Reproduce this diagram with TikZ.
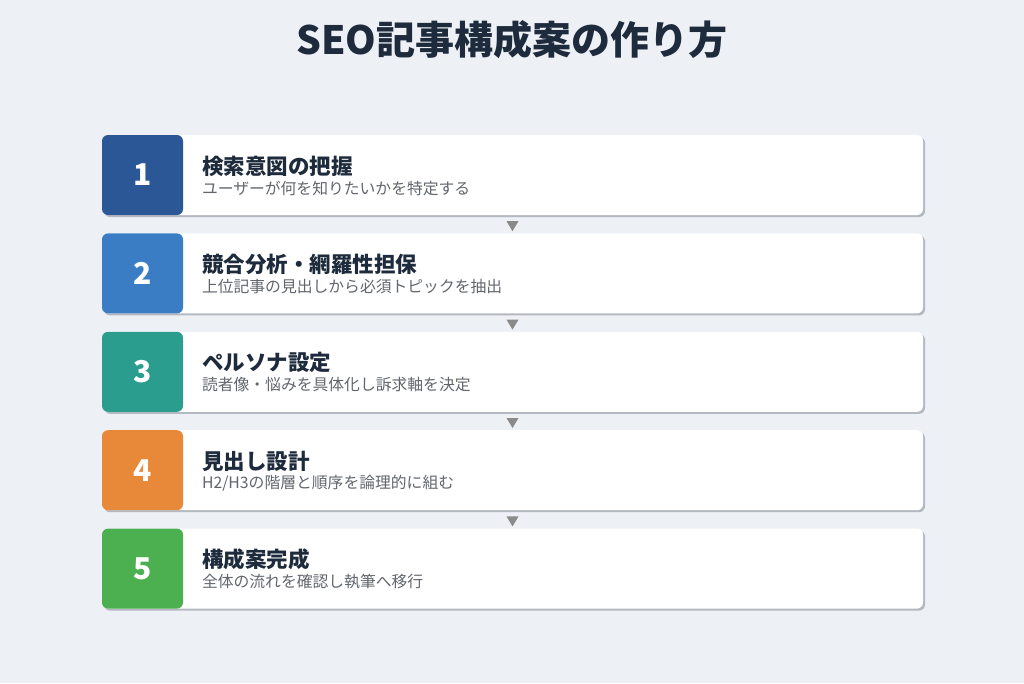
\documentclass[tikz,border=0pt]{standalone}
\usepackage{fontspec}
\setmainfont{Noto Sans CJK JP}
\usetikzlibrary{positioning,shadows}

\definecolor{bg}{HTML}{EDF0F5}
\definecolor{titleblue}{HTML}{1E2B3C}
\definecolor{subgrey}{HTML}{62666C}
\definecolor{shadowgrey}{HTML}{B4B8C0}
\definecolor{arrowgrey}{HTML}{8A8A8A}
\definecolor{stepa}{HTML}{2B5797}
\definecolor{stepb}{HTML}{3A7DC4}
\definecolor{stepc}{HTML}{2A9D8F}
\definecolor{stepd}{HTML}{E8893A}
\definecolor{stepe}{HTML}{4CAF50}

\begin{document}
\begin{tikzpicture}[x=1pt, y=-1pt,
    card/.style={fill=white, rounded corners=6pt, minimum width=821pt, minimum height=80pt, inner sep=0pt,
        drop shadow={shadow xshift=2pt, shadow yshift=-2pt, fill=shadowgrey, opacity=1},
        path picture={\fill[#1] (path picture bounding box.north west) rectangle ([xshift=81pt]path picture bounding box.south west);}},
    num/.style={text=white, font=\bfseries\fontsize{30}{32}\selectfont},
    head/.style={anchor=west, inner sep=0pt, text=titleblue, font=\bfseries\fontsize{21.5}{25}\selectfont},
    sub/.style={anchor=west, inner sep=0pt, text=subgrey, font=\fontsize{15.8}{19}\selectfont}]
    \path[use as bounding box, fill=bg] (0,0) rectangle (1024,683);
    \node [text=titleblue, font=\bfseries\fontsize{39}{42}\selectfont] (title) at (512,40) {SEO記事構成案の作り方};

    \node [card=stepa] (b1) at (512.5,175) {};
    \node [card=stepb, below=18pt of b1] (b2) {};
    \node [card=stepc, below=18pt of b2] (b3) {};
    \node [card=stepd, below=18pt of b3] (b4) {};
    \node [card=stepe, below=18pt of b4] (b5) {};

    \node [num] (n1) at ([xshift=40.5pt]b1.west) {1};
    \node [head] (h1) at ([xshift=100pt, yshift=9pt]b1.west) {検索意図の把握};
    \node [sub] (s1) at ([xshift=100pt, yshift=-13pt]b1.west) {ユーザーが何を知りたいかを特定する};

    \node [num] (n2) at ([xshift=40.5pt]b2.west) {2};
    \node [head] (h2) at ([xshift=100pt, yshift=9pt]b2.west) {競合分析・網羅性担保};
    \node [sub] (s2) at ([xshift=100pt, yshift=-13pt]b2.west) {上位記事の見出しから必須トピックを抽出};

    \node [num] (n3) at ([xshift=40.5pt]b3.west) {3};
    \node [head] (h3) at ([xshift=100pt, yshift=9pt]b3.west) {ペルソナ設定};
    \node [sub] (s3) at ([xshift=100pt, yshift=-13pt]b3.west) {読者像・悩みを具体化し訴求軸を決定};

    \node [num] (n4) at ([xshift=40.5pt]b4.west) {4};
    \node [head] (h4) at ([xshift=100pt, yshift=9pt]b4.west) {見出し設計};
    \node [sub] (s4) at ([xshift=100pt, yshift=-13pt]b4.west) {H2/H3の階層と順序を論理的に組む};

    \node [num] (n5) at ([xshift=40.5pt]b5.west) {5};
    \node [head] (h5) at ([xshift=100pt, yshift=9pt]b5.west) {構成案完成};
    \node [sub] (s5) at ([xshift=100pt, yshift=-13pt]b5.west) {全体の流れを確認し執筆へ移行};

    \path (b1.south) -- (b2.north) coordinate[midway] (a1);
    \path (b2.south) -- (b3.north) coordinate[midway] (a2);
    \path (b3.south) -- (b4.north) coordinate[midway] (a3);
    \path (b4.south) -- (b5.north) coordinate[midway] (a4);
    \fill[arrowgrey] (a1) ++(-6,-3) -- ++(12,0) -- ++(-6,10) -- cycle;
    \fill[arrowgrey] (a2) ++(-6,-3) -- ++(12,0) -- ++(-6,10) -- cycle;
    \fill[arrowgrey] (a3) ++(-6,-3) -- ++(12,0) -- ++(-6,10) -- cycle;
    \fill[arrowgrey] (a4) ++(-6,-3) -- ++(12,0) -- ++(-6,10) -- cycle;
\end{tikzpicture}
\end{document}
